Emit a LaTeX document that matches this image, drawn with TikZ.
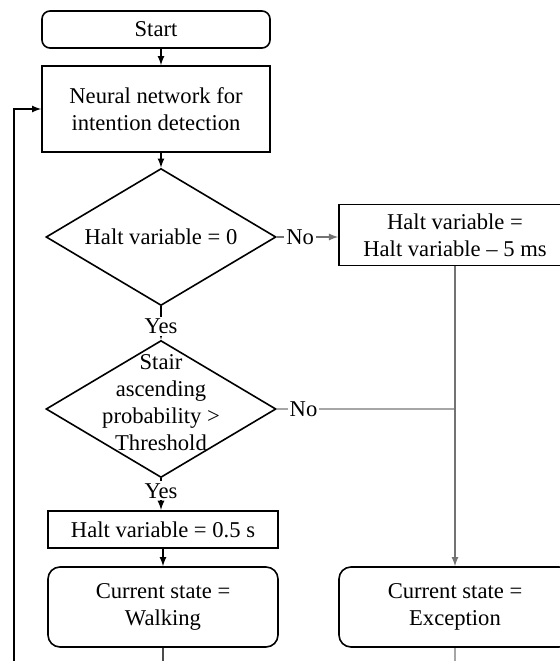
\documentclass[tikz,border=0pt]{standalone}
\usepackage{fontspec}
\setmainfont{Liberation Serif}
\usetikzlibrary{shapes.geometric}

\begin{document}
\begin{tikzpicture}[x=0.5pt, y=-0.5pt,
    every node/.style={font=\fontsize{11.3}{13.5}\selectfont},
    % Styles
    terminal/.style={draw, line width=0.8pt, rounded corners=4pt, align=center, minimum width=114pt, minimum height=18.5pt, inner sep=0pt},
    process/.style={draw, line width=0.8pt, align=center, minimum width=114pt, minimum height=43pt, inner sep=0pt},
    state/.style={draw, line width=0.8pt, rounded corners=6pt, align=center, minimum width=115pt, minimum height=40pt, inner sep=0pt},
    decision/.style={diamond, aspect=1.68, draw, line width=0.8pt, minimum width=115pt, minimum height=68.5pt, inner sep=0pt},
    flow-arrow/.style={-latex, line width=0.6pt},
    side-arrow/.style={-latex, line width=0.6pt, black!55},
    side-line/.style={line width=0.6pt, black!35},
    answer/.style={fill=white, inner sep=1pt, text=black},
]

\useasboundingbox (0,0) rectangle (560,661);

% Main column
\node[terminal] (start) at (156, 29.5) {Start};
\node[process] (neural) at (156, 109) {Neural network for\\intention detection};
\node[decision] (halt0) at (161, 237) {Halt variable = 0};
\node[decision] (stair) at (161, 409) {};
\node[align=center, inner sep=0pt] (stairtxt) at (161, 403) {Stair\\ascending\\probability >\\Threshold};
\node[process, minimum width=115pt, minimum height=18.5pt, line width=1.1pt] (reset) at (163, 529.5) {Halt variable = 0.5 s};
\node[state] (walking) at (163, 607) {Current state =\\Walking};

% Right column
\node[process, minimum width=116pt, minimum height=30.5pt] (countdown) at (455, 235) {Halt variable =\\Halt variable -- 5 ms};
\node[state, minimum width=116pt] (exception) at (455, 607) {Current state =\\Exception};

% Loop and open ends
\coordinate (loopbot) at (14, 661);

\draw[flow-arrow] (start.south -| halt0.north) -- (neural.north -| halt0.north);
\draw[flow-arrow] (neural.south -| halt0.north) -- (halt0.north);
\draw[flow-arrow] (halt0.south) -- node[answer, pos=0.6] {Yes} (stair.north);
\draw[flow-arrow] (stair.south) -- node[answer, pos=0.4] {Yes} (reset.north -| stair.south);
\draw[flow-arrow] (reset.south) -- (walking.north);
\draw[side-arrow] (halt0.east) -- node[answer, pos=0.38] {No} (halt0.east -| countdown.west);
\draw[side-line] (stair.east) -- node[answer, pos=0.15] {No} (stair.east -| countdown.south);
\draw[side-arrow] (countdown.south) -- (exception.north);

\draw[flow-arrow] (loopbot) |- (neural.west);
\draw[line width=0.6pt, black!70] (walking.south) -- (walking.south |- loopbot);
\draw[side-line] (exception.south) -- (exception.south |- loopbot);

\end{tikzpicture}
\end{document}
